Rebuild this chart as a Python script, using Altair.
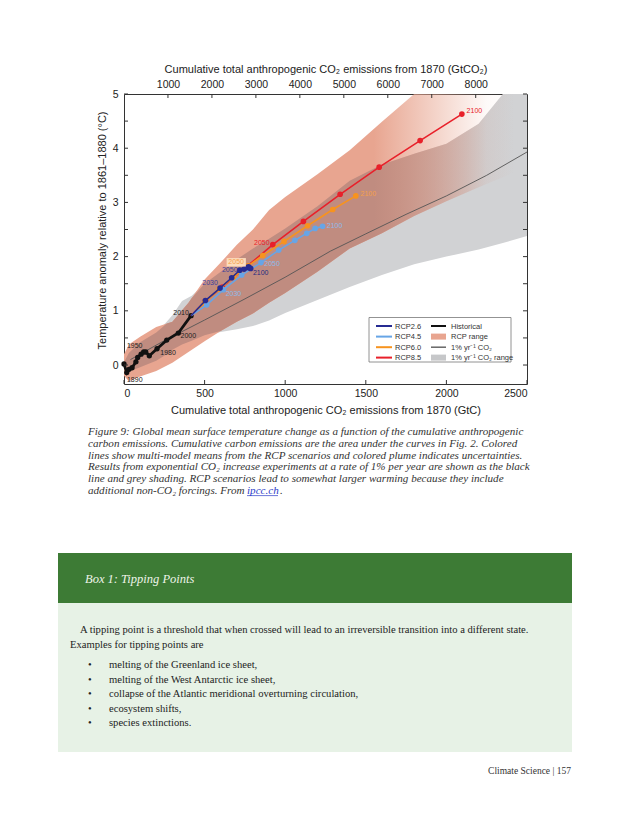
import altair as alt
import numpy as np
import pandas as pd

# ---------------- data ----------------
hist_x = [0, 17, 31, 50, 74, 85, 106, 122, 135, 157, 205, 265, 337, 416]
hist_y = [0.02, -0.14, -0.08, -0.05, 0.06, 0.14, 0.20, 0.24, 0.24, 0.17, 0.30, 0.46, 0.59, 0.91]
hist_label_idx = {"1890": 1, "1950": 5, "1980": 10, "2000": 12, "2010": 13}

rcp_years = [2010, 2020, 2030, 2040, 2050, 2060, 2070, 2080, 2090, 2100]
rcp26_x = [416, 505, 596, 668, 718, 745, 762, 773, 781, 786]
rcp26_y = [0.91, 1.19, 1.42, 1.61, 1.75, 1.77, 1.80, 1.81, 1.79, 1.78]
rcp45_x = [416, 513, 617, 730, 850, 960, 1060, 1134, 1186, 1232]
rcp45_y = [0.91, 1.11, 1.39, 1.66, 1.89, 2.12, 2.30, 2.43, 2.52, 2.56]
rcp60_x = [416, 500, 590, 680, 770, 861, 993, 1139, 1295, 1438]
rcp60_y = [0.91, 1.15, 1.40, 1.62, 1.83, 2.02, 2.28, 2.57, 2.87, 3.12]
rcp85_x = [416, 505, 610, 755, 923, 1113, 1341, 1583, 1837, 2096]
rcp85_y = [0.91, 1.18, 1.44, 1.80, 2.22, 2.65, 3.15, 3.65, 4.14, 4.63]

pct1_x = [40, 250, 500, 750, 1000, 1280, 1500, 1750, 2000, 2250, 2500]
pct1_y = [0.10, 0.45, 0.83, 1.22, 1.62, 2.10, 2.42, 2.78, 3.12, 3.50, 3.93]

rcp_range_x = [0, 30, 100, 200, 300, 400, 500, 600, 700, 800, 900, 1000, 1200, 1400, 1600, 1800, 2000, 2200, 2420]
rcp_range_lo = [-0.2, -0.3, -0.21, -0.11, 0.04, 0.24, 0.44, 0.63, 0.80, 0.95, 1.15, 1.33, 1.72, 2.15, 2.43, 2.75, 3.02, 3.28, 3.55]
rcp_range_hi = [0.2, 0.38, 0.52, 0.70, 0.80, 1.15, 1.58, 1.89, 2.22, 2.50, 2.86, 3.10, 3.52, 3.96, 4.49, 5.0, 5.5, 5.9, 6.2]

pct1_range_x = [0, 30, 100, 200, 265, 300, 360, 420, 500, 600, 700, 800, 900, 1000, 1200, 1400, 1600, 1800, 2000, 2200, 2350, 2500]
pct1_range_lo = [0.0, -0.12, -0.04, 0.08, 0.2, 0.28, 0.38, 0.45, 0.55, 0.61, 0.66, 0.72, 0.82, 0.96, 1.2, 1.44, 1.66, 1.86, 2.0, 2.13, 2.25, 2.38]
pct1_range_hi = [0.05, 0.22, 0.42, 0.6, 0.8, 0.92, 1.18, 1.28, 1.5, 1.72, 1.95, 2.15, 2.33, 2.52, 2.93, 3.4, 3.7, 3.9, 4.08, 4.45, 5.0, 5.4]

x_ticks = [0, 500, 1000, 1500, 2000, 2500]
x_top_ticks = [1000, 2000, 3000, 4000, 5000, 6000, 7000, 8000]
y_ticks = [0, 0.5, 1, 1.5, 2, 2.5, 3, 3.5, 4, 4.5, 5]
y_labels = [0, 1, 2, 3, 4, 5]
GTC_TO_GTCO2 = 44 / 12

legend_left = ["RCP2.6", "RCP4.5", "RCP6.0", "RCP8.5"]
legend_right = ["Historical", "RCP range", "1% yr\u207b\u00b9 CO\u2082", "1% yr\u207b\u00b9 CO\u2082 range"]

caption_lines = [
    "Figure 9: Global mean surface temperature change as a function of the cumulative anthropogenic",
    "carbon emissions. Cumulative carbon emissions are the area under the curves in Fig. 2. Colored",
    "lines show multi-model means from the RCP scenarios and colored plume indicates uncertainties.",
    "Results from exponential CO\u2082 increase experiments at a rate of 1% per year are shown as the black",
    "line and grey shading. RCP scenarios lead to somewhat larger warming because they include",
]
caption_last = "additional non-CO\u2082 forcings. From "
caption_link = "ipcc.ch"
box_title = "Box 1: Tipping Points"
box_para = [
    "A tipping point is a threshold that when crossed will lead to an irreversible transition into a different state.",
    "Examples for tipping points are",
]
box_bullets = [
    "melting of the Greenland ice sheet,",
    "melting of the West Antarctic ice sheet,",
    "collapse of the Atlantic meridional overturning circulation,",
    "ecosystem shifts,",
    "species extinctions.",
]
footer = "Climate Science  |  157"

# ---------------- styling ----------------
C26, C45, C60, C85 = "#262b92", "#67a5e6", "#f7931e", "#e8202a"
SALMON = (232, 165, 144)
BROWN = (192, 140, 128)
GREY = "#d1d2d4"
SANS = "Liberation Sans"
SERIF = "Liberation Serif"

W, H = 403, 290
OX, OY = 124, 94  # page position of plot origin
xscale = alt.Scale(domain=[0, 2500], nice=False, zero=False)
yscale = alt.Scale(domain=[-0.35, 5], nice=False, zero=False)
ONE = alt.Data(values=[{"a": 1}])

axis_common = dict(ticks=False, domain=False, grid=False, labelFont=SANS, labelFontSize=10.5,
                   labelColor="#222", titleFont=SANS, titleFontSize=11, titleFontWeight="normal",
                   titleColor="#222", format="d")
XAX = alt.Axis(values=x_ticks, labelPadding=4,
               title="Cumulative total anthropogenic CO\u2082 emissions from 1870 (GtC)",
               titlePadding=6, **axis_common)
YAX = alt.Axis(values=y_labels, labelPadding=6,
               title="Temperature anomaly relative to 1861\u20131880 (\u00b0C)",
               titlePadding=5, titleY=H / 2 - 9, **axis_common)


def X(f="x"):
    return alt.X(f"{f}:Q", scale=xscale, axis=XAX)


def Y(f="y"):
    return alt.Y(f"{f}:Q", scale=yscale, axis=YAX)


def txt(s, px, py, size, color="#222", font=SERIF, style="normal", align="left",
        weight="normal", baseline="alphabetic", lh=None):
    kw = dict(text=s, font=font, fontSize=size, color=color, fontStyle=style,
              align=align, baseline=baseline, fontWeight=weight)
    if lh:
        kw.update(lineBreak="\n", lineHeight=lh)
    return alt.Chart(ONE).mark_text(**kw).encode(x=alt.value(px - OX), y=alt.value(py - OY))


def box(px0, py0, px1, py1, fill, stroke=None, sw=0):
    kw = dict(fill=fill)
    if stroke:
        kw.update(stroke=stroke, strokeWidth=sw)
    return alt.Chart(ONE).mark_rect(**kw).encode(
        x=alt.value(px0 - OX), x2=alt.value(px1 - OX), y=alt.value(py0 - OY), y2=alt.value(py1 - OY))


def hline(px0, px1, py, color, sw):
    return alt.Chart(ONE).mark_rule(color=color, strokeWidth=sw).encode(
        x=alt.value(px0 - OX), x2=alt.value(px1 - OX), y=alt.value(py - OY))


def fade(rgb, xmin, xmax, x_start=1550, x_mid=2250, x_end=2420):
    def off(v):
        return float(min(max((v - xmin) / (xmax - xmin), 0), 1))
    r, g, b = rgb
    return alt.Gradient(
        gradient="linear", x1=0, x2=1, y1=0, y2=0,
        stops=[alt.GradientStop(color=f"rgba({r},{g},{b},1)", offset=0),
               alt.GradientStop(color=f"rgba({r},{g},{b},1)", offset=off(x_start)),
               alt.GradientStop(color=f"rgba({r},{g},{b},0.06)", offset=off(x_mid)),
               alt.GradientStop(color=f"rgba({r},{g},{b},0)", offset=off(x_end))])


layers = []

# ---- plumes ----
grey_df = pd.DataFrame({"x": pct1_range_x, "lo": pct1_range_lo, "hi": pct1_range_hi})
layers.append(alt.Chart(grey_df).mark_area(color=GREY, clip=True).encode(
    x=X(), y=Y("lo"), y2="hi"))

rcp_df = pd.DataFrame({"x": rcp_range_x, "lo": rcp_range_lo, "hi": rcp_range_hi})
layers.append(alt.Chart(rcp_df).mark_area(
    color=fade(SALMON, min(rcp_range_x), max(rcp_range_x)), clip=True).encode(
    x=X(), y=Y("lo"), y2="hi"))

# overlap of both plumes (where the RCP plume lies over the grey plume)
ov_x = sorted(set(rcp_range_x) | set(pct1_range_x))
ov_x = [v for v in ov_x if max(min(rcp_range_x), min(pct1_range_x)) <= v <= min(max(rcp_range_x), max(pct1_range_x))]
ov_lo = np.maximum(np.interp(ov_x, rcp_range_x, rcp_range_lo), np.interp(ov_x, pct1_range_x, pct1_range_lo))
ov_hi = np.minimum(np.interp(ov_x, rcp_range_x, rcp_range_hi), np.interp(ov_x, pct1_range_x, pct1_range_hi))
ov_hi = np.maximum(ov_hi, ov_lo)
ov_df = pd.DataFrame({"x": ov_x, "lo": ov_lo, "hi": ov_hi})
layers.append(alt.Chart(ov_df).mark_area(
    color=fade(BROWN, min(ov_x), max(ov_x)), clip=True).encode(
    x=X(), y=Y("lo"), y2="hi"))

# ---- 1% per year line ----
layers.append(alt.Chart(pd.DataFrame({"x": pct1_x, "y": pct1_y})).mark_line(
    color="#555555", strokeWidth=0.9, clip=True).encode(x=X(), y=Y()))

# ---- historical ----
hist_df = pd.DataFrame({"x": hist_x, "y": hist_y})
layers.append(alt.Chart(hist_df).mark_line(color="#111111", strokeWidth=2.8).encode(x=X(), y=Y()))
layers.append(alt.Chart(hist_df).mark_point(filled=True, color="#111111", size=28, opacity=1).encode(x=X(), y=Y()))

# ---- RCP scenarios ----
for xs_, ys_, col in [(rcp85_x, rcp85_y, C85), (rcp60_x, rcp60_y, C60),
                      (rcp45_x, rcp45_y, C45), (rcp26_x, rcp26_y, C26)]:
    d = pd.DataFrame({"x": xs_, "y": ys_, "year": rcp_years})
    layers.append(alt.Chart(d).mark_line(color=col, strokeWidth=1.6).encode(x=X(), y=Y()))
    layers.append(alt.Chart(d[d.year > 2010]).mark_point(filled=True, color=col, size=32, opacity=1).encode(x=X(), y=Y()))


# ---- year labels (anchored on data points) ----
def ylabel(s, x, y, color, dx, dy, size=7):
    return alt.Chart(pd.DataFrame({"x": [x], "y": [y], "t": [s]})).mark_text(
        font=SANS, fontSize=size, color=color, dx=dx, dy=dy, align="center", baseline="middle"
    ).encode(x=X(), y=Y(), text="t:N")


hist_offsets = {"1890": (8, 7), "1950": (-3, -11), "1980": (11, 4), "2000": (10, 3), "2010": (-10, -3)}
for lab, i in hist_label_idx.items():
    dx, dy = hist_offsets[lab]
    layers.append(ylabel(lab, hist_x[i], hist_y[i], "#222222", dx, dy))

i2030, i2050, i2100 = rcp_years.index(2030), rcp_years.index(2050), rcp_years.index(2100)
# orange 2050 label box
layers.append(alt.Chart(pd.DataFrame({"x": [rcp60_x[i2050]], "y": [rcp60_y[i2050]]})).mark_point(
    shape="M-4.3,-1.55L-0.45,-1.55L-0.45,0.15L-4.3,0.15Z", size=100, filled=True,
    color="#fcdcbc", opacity=1).encode(x=X(), y=Y()))
for s, xs_, ys_, i, col, dx, dy in [
    ("2030", rcp26_x, rcp26_y, i2030, "#3a3f9c", -10, -5),
    ("2050", rcp26_x, rcp26_y, i2050, "#3a3f9c", -10, 0),
    ("2100", rcp26_x, rcp26_y, i2100, "#262b80", 10, 4),
    ("2030", rcp45_x, rcp45_y, i2030, "#8dbbe9", 10, 4),
    ("2050", rcp45_x, rcp45_y, i2050, "#8dbbe9", 11, 1),
    ("2100", rcp45_x, rcp45_y, i2100, "#8dbbe9", 12, 0),
    ("2050", rcp60_x, rcp60_y, i2050, "#f5a04a", -12, -3.5),
    ("2100", rcp60_x, rcp60_y, i2100, "#f5a04a", 12.5, -1.5),
    ("2050", rcp85_x, rcp85_y, i2050, "#e8202a", -11, -2),
    ("2100", rcp85_x, rcp85_y, i2100, "#e8202a", 12.5, -3.5),
]:
    layers.append(ylabel(s, xs_[i], ys_[i], col, dx, dy))

# ---- legend (drawn by hand, like the original) ----
layers.append(box(369, 317.5, 511, 362, "white", "#777777", 0.8))
rows = [326, 336.6, 347.2, 357.6]
for lab, col, ry in zip(legend_left, [C26, C45, C60, C85], rows):
    layers.append(hline(376, 392, ry, col, 2))
    layers.append(txt(lab, 395, ry + 2.6, 7.5, "#333", SANS))
layers.append(hline(431, 446, rows[0], "#111111", 2))
layers.append(box(431, rows[1] - 3, 446, rows[1] + 3, "rgb(232,165,144)"))
layers.append(hline(431, 446, rows[2], "#666666", 1.5))
layers.append(box(431, rows[3] - 3, 446, rows[3] + 3, "#c6c7c9"))
for lab, ry in zip(legend_right, rows):
    layers.append(txt(lab, 451, ry + 2.6, 7.5, "#333", SANS))

# ---- tick marks (inward) carrying the axes ----
layers.append(alt.Chart(pd.DataFrame({"x": x_ticks})).mark_rule(color="#333", strokeWidth=1).encode(
    x=X(), y=alt.value(H), y2=alt.value(H - 4)))
layers.append(alt.Chart(pd.DataFrame({"y": y_ticks})).mark_rule(color="#333", strokeWidth=1).encode(
    y=Y(), x=alt.value(0), x2=alt.value(4)))
layers.append(alt.Chart(pd.DataFrame({"y": y_ticks})).mark_rule(color="#333", strokeWidth=1).encode(
    y=Y(), x=alt.value(W), x2=alt.value(W - 4)))

# ---- page text around the figure ----
CAP = 11.1
CAP_Y = 435
LAST_Y = CAP_Y + 5 * 11.8
layers.append(txt("\n".join(caption_lines), 88, CAP_Y, CAP, "#333", SERIF, "italic", lh=11.8))
layers.append(txt(caption_last, 88, LAST_Y, CAP, "#333", SERIF, "italic"))
layers.append(txt(caption_link, 247, LAST_Y, CAP, "#2b3bc9", SERIF, "italic"))
layers.append(hline(247, 278, LAST_Y + 1.6, "#2b3bc9", 0.7))
layers.append(txt(".", 280, LAST_Y, CAP, "#333", SERIF, "italic"))

BODY = 10.6
layers.append(box(58, 553, 572, 603, "#3d7b35"))
layers.append(box(58, 603, 572, 752, "#e7f2e6"))
layers.append(txt(box_title, 85, 583, 12.5, "#eef4e8", SERIF, "italic"))
layers.append(txt(box_para[0], 80, 633, BODY, "#222"))
layers.append(txt(box_para[1], 70, 648, BODY, "#222"))
for k, b in enumerate(box_bullets):
    layers.append(txt("\u2022", 88, 668 + 14.5 * k, BODY, "#222"))
    layers.append(txt(b, 109, 668 + 14.5 * k, BODY, "#222"))
layers.append(txt(footer, 571, 774, 9.5, "#333", align="right"))

main = alt.layer(*layers)

top = alt.Chart(pd.DataFrame({"v": x_top_ticks})).mark_rule(color="#333", strokeWidth=1).encode(
    x=alt.X("v:Q", scale=alt.Scale(domain=[0, 2500 * GTC_TO_GTCO2], nice=False, zero=False),
            axis=alt.Axis(orient="top", values=x_top_ticks, labelPadding=5,
                          title="Cumulative total anthropogenic CO\u2082 emissions from 1870 (GtCO\u2082)",
                          titlePadding=5, **axis_common)),
    y=alt.value(0), y2=alt.value(4))

chart = alt.layer(main, top).resolve_scale(x="independent").properties(
    width=W, height=H,
    autosize=alt.AutoSizeParams(type="none"),
    padding={"left": OX - 8, "top": OY - 8, "right": 614 - (OX - 8) - W, "bottom": 400},
    background="white",
).configure_view(stroke="#333", strokeWidth=1)

chart.save("out.html", embed_options={"renderer": "svg", "actions": False})
